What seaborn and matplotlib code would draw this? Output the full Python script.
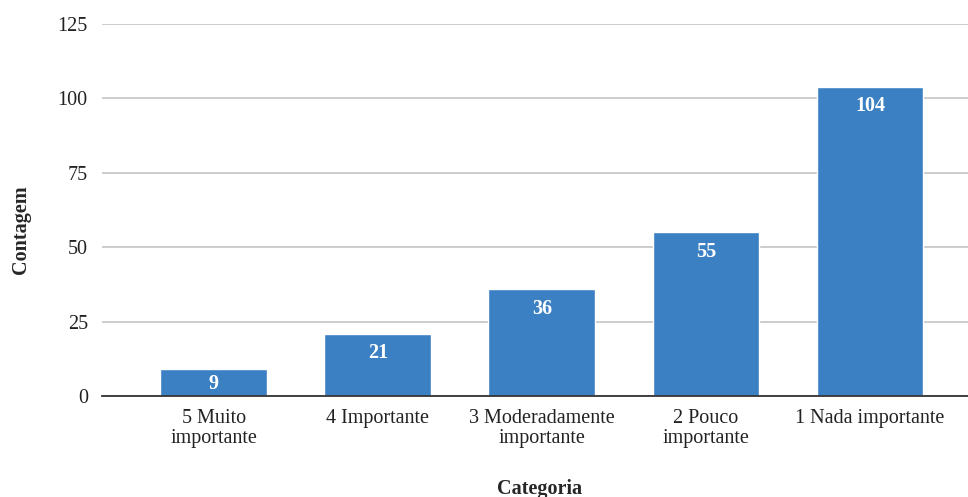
import numpy as np
import pandas as pd
import matplotlib.pyplot as plt
import seaborn as sns

categorias = ["5 Muito\nimportante", "4 Importante", "3 Moderadamente\nimportante",
              "2 Pouco\nimportante", "1 Nada importante"]
contagem = [9, 21, 36, 55, 104]
y_ticks = [0, 25, 50, 75, 100, 125]

df = pd.DataFrame({"Categoria": categorias, "Contagem": contagem})

sns.set_style("white")
plt.rcParams['font.family'] = ['Liberation Serif', 'DejaVu Serif']

fig = plt.figure(figsize=(9.68, 4.97), dpi=100)
ax = fig.add_axes([0.105, 0.2032, 0.895, 0.7485])

sns.barplot(x="Categoria", y="Contagem", data=df, color="#3b80c3",
            width=0.65, saturation=1, ax=ax, zorder=3)

ax.set_ylim(0, 125)
ax.set_xlim(-0.683, 4.598)
ax.set_yticks(y_ticks)
ax.yaxis.grid(True, color="#c8c8c8", linewidth=1.3, zorder=0)
ax.tick_params(axis="both", length=0, labelsize=14.5, colors="#222222")
ax.tick_params(axis="x", pad=9)
ax.tick_params(axis="y", pad=10)
for lbl in ax.get_xticklabels():
    lbl.set_linespacing(1.12)

sns.despine(ax=ax, left=True, top=True, right=True)
ax.spines["bottom"].set_color("#333333")
ax.spines["bottom"].set_linewidth(1.3)
ax.spines["bottom"].set_zorder(4)

# labels sit near the top of each bar, or mid-bar when the bar is short
for index, value in enumerate(contagem):
    ypos = max(value - 6.7, value / 2 - 0.3)
    ax.text(index, ypos, str(value), ha="center", va="center",
            color="white", fontsize=14.5, fontweight="bold", zorder=5)

ax.set_xlabel("Categoria", fontsize=14.5, fontweight="bold")
ax.set_ylabel("Contagem", fontsize=14.5, fontweight="bold")
ax.xaxis.set_label_coords(0.506, -0.222)
ax.yaxis.set_label_coords(-0.082, 0.446)

plt.savefig("out.png", dpi=100)
